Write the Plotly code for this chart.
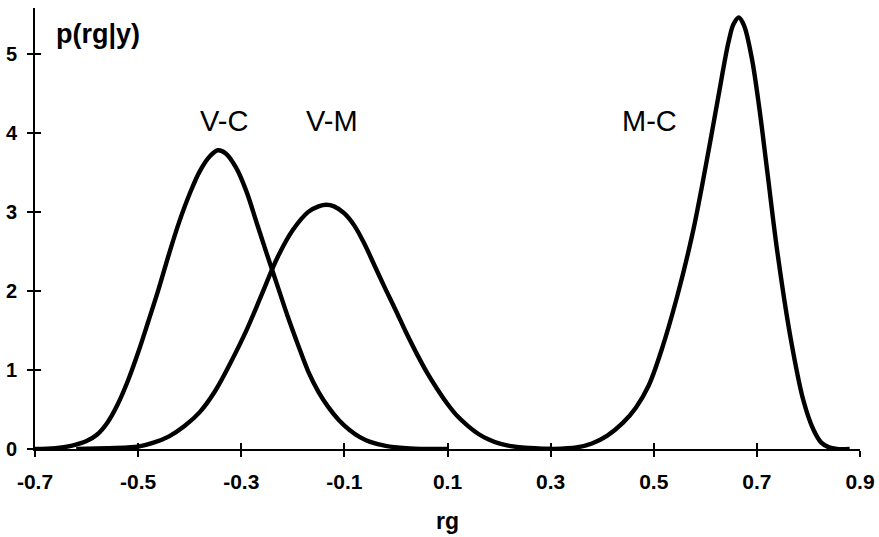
import plotly.graph_objects as go

# ---- data ----
VC_x = [-0.70, -0.66, -0.63, -0.60, -0.58, -0.56, -0.54, -0.52, -0.50, -0.48, -0.46, -0.44,
        -0.42, -0.40, -0.38, -0.36, -0.345, -0.33, -0.31, -0.29, -0.27, -0.25, -0.23,
        -0.21, -0.19, -0.17, -0.15, -0.13, -0.11, -0.09, -0.07, -0.05, -0.02, 0.02, 0.06, 0.10]
VC_y = [0.00, 0.01, 0.04, 0.10, 0.18, 0.33, 0.56, 0.86, 1.22, 1.62, 2.03, 2.47,
        2.88, 3.23, 3.52, 3.71, 3.78, 3.74, 3.56, 3.26, 2.86, 2.46, 2.07,
        1.68, 1.32, 0.98, 0.72, 0.52, 0.36, 0.24, 0.15, 0.09, 0.04, 0.01, 0.0, 0.0]

VM_x = [-0.62, -0.56, -0.52, -0.50, -0.47, -0.44, -0.41, -0.38, -0.35, -0.32, -0.29, -0.26,
        -0.23, -0.20, -0.17, -0.15, -0.135, -0.12, -0.10, -0.08, -0.06, -0.04, -0.02,
        0.00, 0.02, 0.04, 0.06, 0.08, 0.10, 0.12, 0.14, 0.16, 0.18, 0.20, 0.22, 0.25, 0.30]
VM_y = [0.00, 0.01, 0.02, 0.03, 0.08, 0.16, 0.29, 0.47, 0.74, 1.10, 1.50, 1.96,
        2.42, 2.77, 3.00, 3.07, 3.09, 3.07, 2.98, 2.82, 2.58, 2.30, 2.02,
        1.75, 1.47, 1.21, 0.97, 0.76, 0.57, 0.41, 0.29, 0.19, 0.12, 0.07, 0.04, 0.015, 0.0]

MC_x = [0.25, 0.30, 0.35, 0.38, 0.41, 0.44, 0.465, 0.49, 0.515, 0.545, 0.575, 0.60,
        0.625, 0.645, 0.655, 0.665, 0.675, 0.69, 0.705, 0.72, 0.74, 0.765, 0.79,
        0.81, 0.825, 0.84, 0.855, 0.88]
MC_y = [0.0, 0.0, 0.02, 0.07, 0.17, 0.33, 0.52, 0.80, 1.25, 1.92, 2.72, 3.55,
        4.45, 5.15, 5.38, 5.46, 5.36, 4.95, 4.30, 3.52, 2.48, 1.42, 0.62,
        0.24, 0.08, 0.02, 0.0, 0.0]

series_names = ["V-C", "V-M", "M-C"]
label_x = [-0.333, -0.124, 0.491]
label_y = [4.15, 4.15, 4.15]

x_ticks = [-0.7, -0.5, -0.3, -0.1, 0.1, 0.3, 0.5, 0.7, 0.9]
x_tick_text = ["-0.7", "-0.5", "-0.3", "-0.1", "0.1", "0.3", "0.5", "0.7", "0.9"]
y_ticks = [0, 1, 2, 3, 4, 5]

FONT = "Liberation Sans"
X_RANGE = [-0.7, 0.9]
Y_RANGE = [0, 5.58]

fig = go.Figure()
axes_for = [("x", "y"), ("x", "y"), ("x2", "y2")]
for name, xs, ys, (xa, ya) in zip(series_names, [VC_x, VM_x, MC_x], [VC_y, VM_y, MC_y], axes_for):
    fig.add_trace(go.Scatter(x=xs, y=ys, mode="lines", name=name, xaxis=xa, yaxis=ya,
                             line=dict(color="black", width=4.4, shape="spline", smoothing=1.0),
                             showlegend=False, hoverinfo="skip"))

for name, lx, ly in zip(series_names, label_x, label_y):
    fig.add_annotation(x=lx, y=ly, text=name, showarrow=False,
                       font=dict(family=FONT, size=29, color="black"))

fig.add_annotation(x=-0.664, y=5.25, text="p(rg|y)", showarrow=False, xanchor="left",
                   font=dict(family=FONT, size=27, color="black", weight="bold"))

axis_common = dict(showgrid=False, zeroline=False, automargin=False)
tick_common = dict(ticklen=6, tickwidth=1.6, tickcolor="black")
fig.update_layout(
    width=879, height=537,
    margin=dict(l=35, r=19, t=8, b=88),
    plot_bgcolor="white", paper_bgcolor="white",
    xaxis=dict(range=X_RANGE, tickvals=x_ticks, ticktext=x_tick_text,
               ticks="outside", **tick_common,
               showline=True, linecolor="black", linewidth=2,
               ticklabelstandoff=7,
               tickfont=dict(family=FONT, size=21, color="black", weight="bold"),
               title=dict(text="rg", standoff=21,
                          font=dict(family=FONT, size=23, color="black", weight="bold")),
               **axis_common),
    yaxis=dict(range=Y_RANGE, tickvals=y_ticks,
               ticks="outside", **tick_common,
               showline=True, linecolor="black", linewidth=2,
               ticklabelstandoff=6,
               tickfont=dict(family=FONT, size=20, color="black", weight="bold"),
               **axis_common),
    xaxis2=dict(overlaying="x", range=X_RANGE, tickvals=x_ticks,
                ticks="inside", **tick_common,
                showticklabels=False, showline=False, anchor="y2", side="bottom", **axis_common),
    yaxis2=dict(overlaying="y", range=Y_RANGE, tickvals=y_ticks,
                ticks="inside", **tick_common,
                showticklabels=False, showline=False, anchor="x2", side="left", **axis_common),
)

# remove the default page margin so the figure fills the window exactly
fig.write_html("out.html", config={"displayModeBar": False},
               post_script="document.body.style.margin='0';document.body.style.overflow='hidden';")
